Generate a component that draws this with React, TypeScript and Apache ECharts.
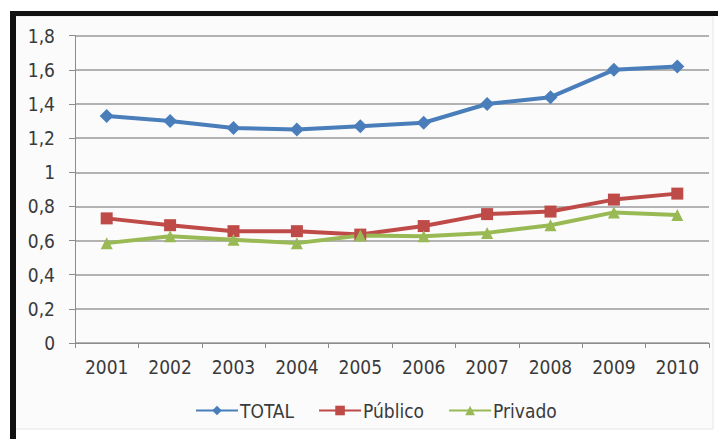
import React, { useEffect, useRef } from "react";
import * as echarts from "echarts";

const years = ["2001", "2002", "2003", "2004", "2005", "2006", "2007", "2008", "2009", "2010"];
const total = [1.33, 1.3, 1.26, 1.25, 1.27, 1.29, 1.4, 1.44, 1.6, 1.62];
const publico = [0.73, 0.69, 0.655, 0.655, 0.635, 0.685, 0.755, 0.77, 0.84, 0.875];
const privado = [0.585, 0.625, 0.605, 0.585, 0.63, 0.625, 0.645, 0.69, 0.765, 0.75];
const seriesNames = ["TOTAL", "Público", "Privado"];

const FONT = "'DejaVu Sans Condensed', 'DejaVu Sans', sans-serif";

export default function App() {
  const ref = useRef<HTMLDivElement>(null);
  useEffect(() => {
    if (!ref.current) return;
    const chart = echarts.init(ref.current, null, { renderer: "svg" });
    const mk = (name: string, data: number[], color: string, symbol: string, size: number) => ({
      name,
      type: "line",
      data,
      symbol,
      symbolSize: size,
      showSymbol: true,
      lineStyle: { color, width: 4 },
      itemStyle: { color },
    });
    chart.setOption({
      animation: false,
      backgroundColor: "#ffffff",
      graphic: [
        { type: "rect", shape: { x: 15, y: 16, width: 698, height: 413 }, style: { fill: "#fbfbfb", stroke: "#e6e6e6", lineWidth: 1 }, z: -10 },
        { type: "rect", shape: { x: 10, y: 11, width: 6, height: 428 }, style: { fill: "#111111" } },
        { type: "rect", shape: { x: 10, y: 11, width: 708, height: 5 }, style: { fill: "#111111" } },
      ],
      grid: { left: 75, right: 9, top: 35.7, bottom: 96, containLabel: false },
      legend: {
        data: seriesNames,
        bottom: 14,
        left: 190,
        itemWidth: 42,
        itemHeight: 12,
        itemGap: 24,
        textStyle: { fontFamily: FONT, fontSize: 19, color: "#3a3a3a", padding: [0, 0, 0, -3] },
      },
      xAxis: {
        type: "category",
        data: years,
        boundaryGap: true,
        axisLine: { lineStyle: { color: "#8c8c8c", width: 1 } },
        axisTick: { show: true, length: 5, lineStyle: { color: "#8c8c8c" } },
        axisLabel: { fontFamily: FONT, fontSize: 19, color: "#3a3a3a", margin: 14 },
      },
      yAxis: {
        type: "value",
        min: 0,
        max: 1.8,
        interval: 0.2,
        axisLine: { show: true, lineStyle: { color: "#8c8c8c", width: 1 } },
        axisTick: { show: true, length: 6, lineStyle: { color: "#8c8c8c" } },
        splitLine: { lineStyle: { color: "#9a9a9a", width: 1.5 } },
        axisLabel: {
          fontFamily: FONT,
          fontSize: 19,
          color: "#3a3a3a",
          margin: 20,
          formatter: (v: number) => String(Math.round(v * 10) / 10).replace(".", ","),
        },
      },
      series: [
        mk("TOTAL", total, "#4a7ebb", "diamond", 14),
        mk("Público", publico, "#be4b48", "rect", 12),
        mk("Privado", privado, "#98b954", "triangle", 12),
      ],
    });
    return () => chart.dispose();
  }, []);
  return <div ref={ref} style={{ position: "absolute", left: 0, top: 0, width: 718, height: 439 }} />;
}
